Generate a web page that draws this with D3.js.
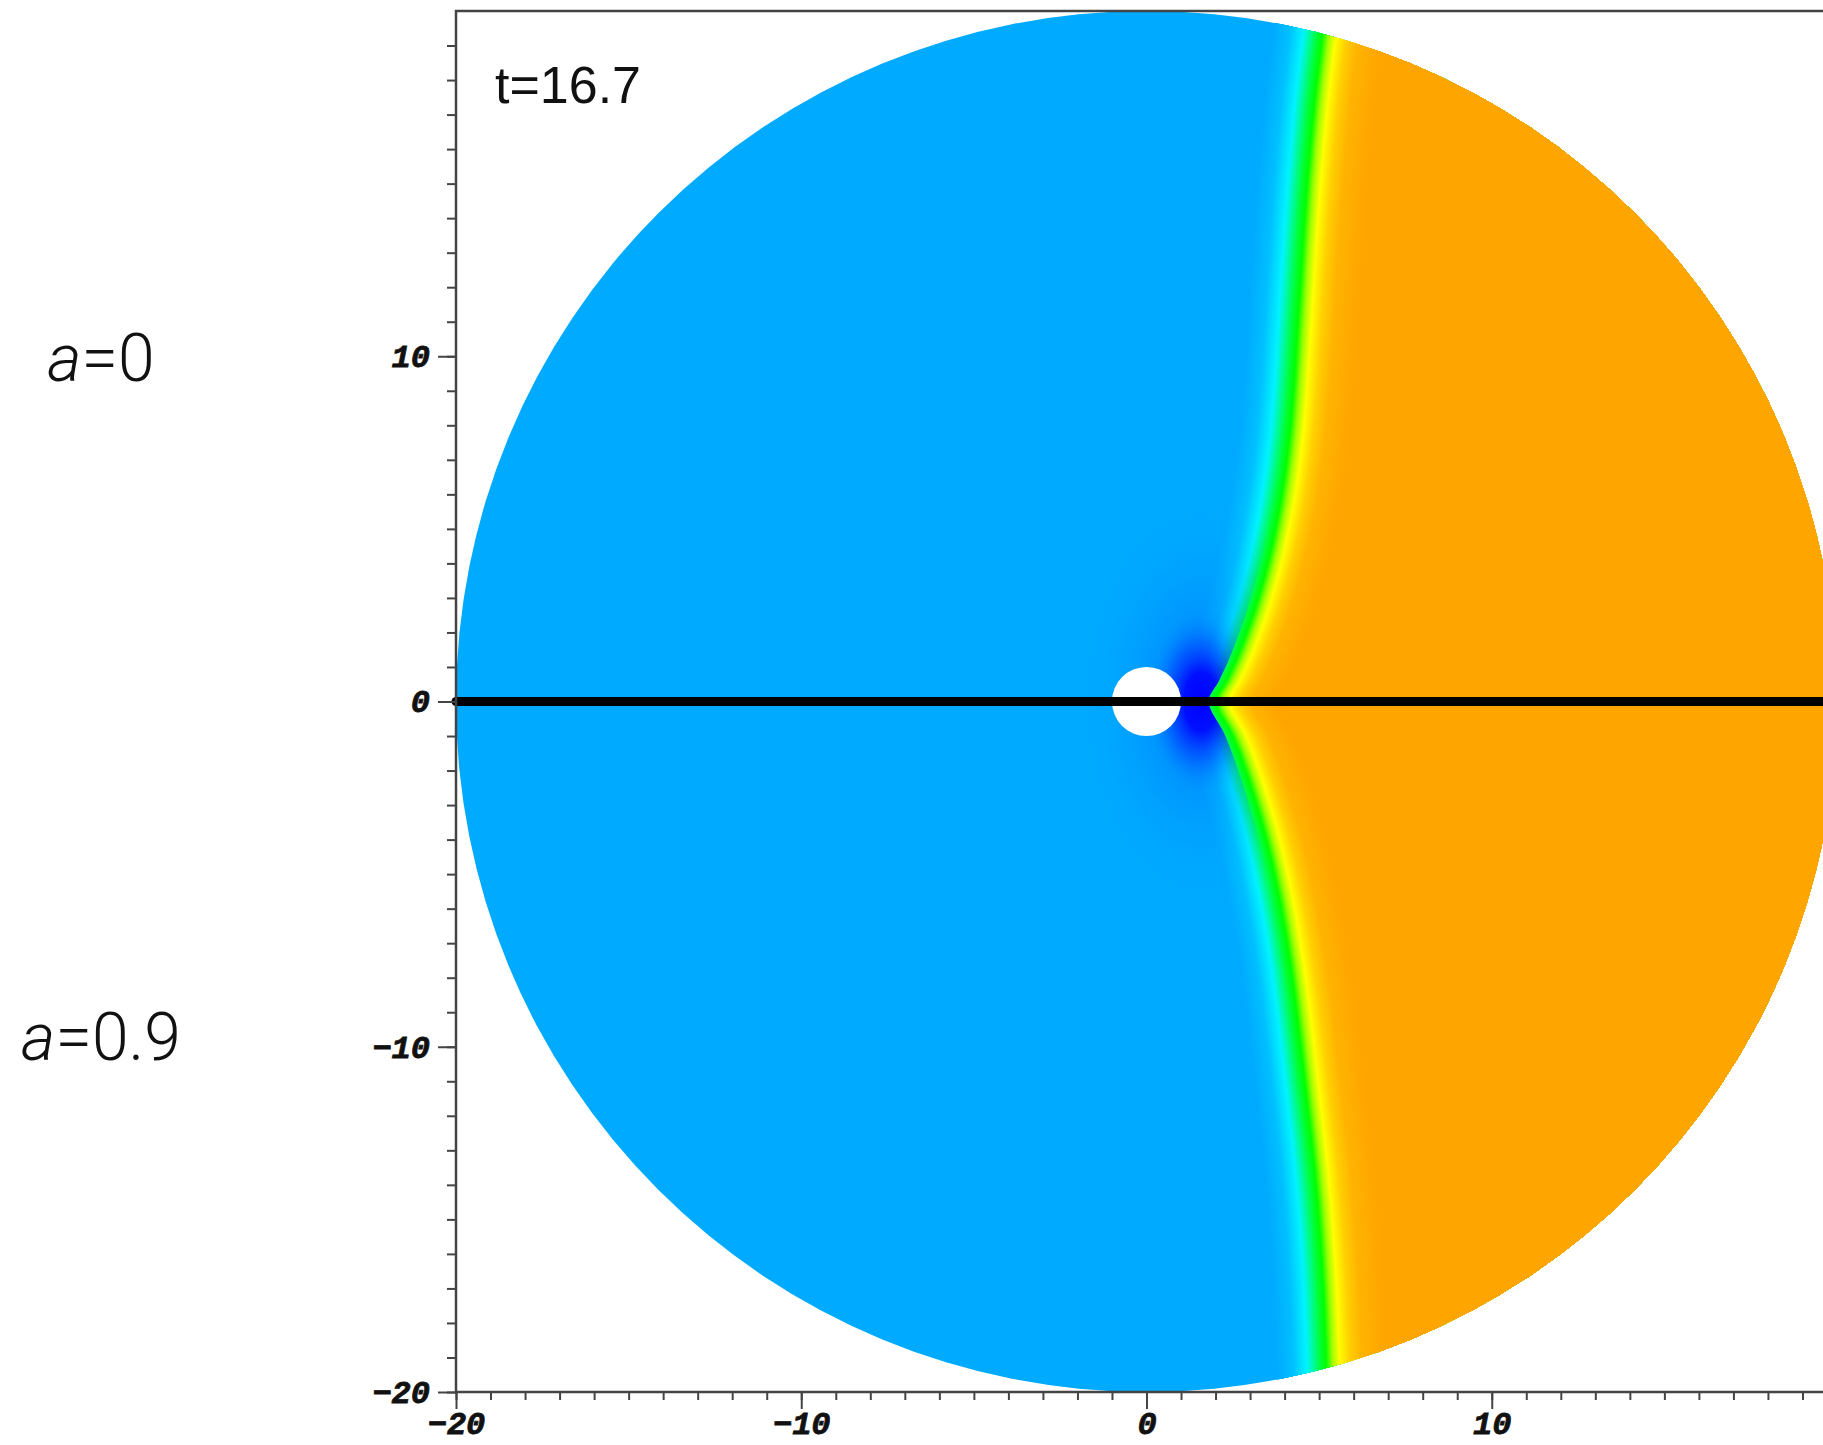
<!DOCTYPE html>
<html>
<head>
<meta charset="utf-8">
<script src="https://cdn.jsdelivr.net/npm/d3@7"></script>
<style>
    body { margin: 0; background: #fff; }
    .axis text { font-family: "Liberation Mono", monospace; font-weight: bold; font-style: italic; fill: #111; stroke: #111; stroke-width: 0.8px; }
    .axis line, .axis path { stroke: #444; }
</style>
</head>
<body>
<div id="chart"></div>
<script>
// front (green contour), [x, y] in plot units
const frontA0 = [
    [1.95, 0], [2.25, 0.6], [2.6, 1.37], [3.05, 2.6], [3.45, 4.0], [3.77, 5.5], [4.0, 7.0],
    [4.17, 8.67], [4.36, 11.56], [4.55, 14.45], [4.8, 17.34], [5.05, 19.45], [5.2, 21]
];
const frontA09 = [
    [1.95, 0], [2.41, -0.95], [2.79, -1.94], [3.37, -3.85], [3.8, -5.78], [4.12, -7.71],
    [4.36, -9.63], [4.58, -11.56], [4.8, -13.5], [4.96, -15.4], [5.07, -17.25], [5.15, -19.4], [5.2, -21]
];
const domainRadius = 20;
const holeRadius = 1;
const timeLabel = 't=16.7';
const spinValues = ['0', '0.9'];
const xMajorTicks = [-20, -10, 0, 10];
const yMajorTicks = [-20, -10, 0, 10];
const minorTicks = [-20, -19, -18, -17, -16, -15, -14, -13, -12, -11, -10, -9, -8, -7, -6, -5, -4, -3, -2, -1,
    0, 1, 2, 3, 4, 5, 6, 7, 8, 9, 10, 11, 12, 13, 14, 15, 16, 17, 18, 19, 20];

// colour table across the front (offset from the green line, plot units)
const levelOffsets = [-1.4, -0.9, -0.5, -0.12, 0.06, 0.25, 0.45, 0.75, 1.1, 1.8];
const levelColors = ['#00aaff', '#00c0ff', '#00f4ff', '#00ff40', '#00ff00', '#a0ff00', '#ffff00', '#ffd000', '#ffb400', '#ffa500'];

class FrontPlot {
    constructor(container) {
        this.container = container;
        this.width = 1823;
        this.height = 1445;
        this.x = d3.scaleLinear().domain([-20, 20]).range([456, 1837]);
        this.y = d3.scaleLinear().domain([-20, 20]).range([1392, 11]);

        this.initSVG();
        this.drawField();
        this.drawAxes();
        this.drawLabels();
    }

    initSVG() {
        this.svg = d3.select(this.container)
            .append('svg')
            .attr('width', this.width)
            .attr('height', this.height);
        this.defs = this.svg.append('defs');

        this.defs.append('clipPath').attr('id', 'plot-clip')
            .append('rect')
            .attr('x', this.x(-20)).attr('y', this.y(20))
            .attr('width', this.x(20) - this.x(-20))
            .attr('height', this.y(-20) - this.y(20));

        this.defs.append('clipPath').attr('id', 'disk-clip')
            .append('circle')
            .attr('cx', this.x(0)).attr('cy', this.y(0))
            .attr('r', this.x(domainRadius) - this.x(0));
    }

    frontPath(offset, side) {
        const line = d3.line()
            .x(d => this.x(d[0] + offset))
            .y(d => this.y(d[1]))
            .curve(d3.curveCatmullRom);
        const pts = frontA09.slice().reverse().concat(frontA0.slice(1));
        const edge = side === 'right' ? 25 : -25;
        return line(pts) + `L${this.x(edge)},${this.y(21)}L${this.x(edge)},${this.y(-21)}Z`;
    }

    addGradient(id, stops) {
        const grad = this.defs.append('radialGradient').attr('id', id);
        stops.forEach(s => grad.append('stop')
            .attr('offset', s[0]).attr('stop-color', s[1]).attr('stop-opacity', s[2]));
    }

    drawField() {
        const color = d3.scaleLinear().domain(levelOffsets).range(levelColors).clamp(true);
        const plot = this.svg.append('g').attr('clip-path', 'url(#plot-clip)');
        const disk = plot.append('g').attr('clip-path', 'url(#disk-clip)');

        disk.append('rect')
            .attr('x', this.x(-21)).attr('y', this.y(21))
            .attr('width', this.x(21) - this.x(-21))
            .attr('height', this.y(-21) - this.y(21))
            .attr('fill', levelColors[0]);

        // bands of the front, drawn left to right
        const step = 0.03;
        const offsets = d3.range(levelOffsets[0], 1.9, step);
        disk.selectAll('.band')
            .data(offsets)
            .enter()
            .append('path')
            .attr('class', 'band')
            .attr('d', d => this.frontPath(d, 'right'))
            .attr('fill', d => color(d + step / 2));

        // dark blue wedge by the hole, kept left of the front
        this.addGradient('halo', [[0, '#0050ff', 0.55], [0.5, '#0070ff', 0.25], [1, '#00aaff', 0]]);
        this.addGradient('wedge', [[0, '#0000ff', 1], [0.3, '#0000ff', 0.9], [0.6, '#0030ff', 0.45], [1, '#00aaff', 0]]);

        this.defs.append('clipPath').attr('id', 'left-of-front')
            .append('path').attr('d', this.frontPath(-0.15, 'left'));

        const wedge = disk.append('g').attr('clip-path', 'url(#left-of-front)');
        wedge.append('ellipse')
            .attr('cx', this.x(1.6)).attr('cy', this.y(0))
            .attr('rx', this.x(3.6) - this.x(0))
            .attr('ry', this.y(0) - this.y(6))
            .attr('fill', 'url(#halo)');
        wedge.append('ellipse')
            .attr('cx', this.x(1.6)).attr('cy', this.y(0))
            .attr('rx', this.x(1.7) - this.x(0))
            .attr('ry', this.y(0) - this.y(2.8))
            .attr('fill', 'url(#wedge)');

        // hole
        plot.append('circle')
            .attr('cx', this.x(0)).attr('cy', this.y(0))
            .attr('r', this.x(holeRadius) - this.x(0))
            .attr('fill', '#fff');

        // equator line
        this.svg.append('line')
            .attr('x1', this.x(-20)).attr('x2', this.x(20))
            .attr('y1', this.y(0)).attr('y2', this.y(0))
            .attr('stroke', '#000')
            .attr('stroke-width', 9)
            .attr('stroke-linecap', 'round');
    }

    drawAxes() {
        const x0 = this.x(-20), y0 = this.y(-20), yTop = this.y(20);

        // minor ticks
        this.svg.append('g').attr('class', 'axis')
            .attr('transform', `translate(0,${y0})`)
            .call(d3.axisBottom(this.x).tickValues(minorTicks).tickSize(8).tickFormat(''))
            .call(g => g.select('.domain').remove())
            .selectAll('line').attr('stroke-width', 2);
        this.svg.append('g').attr('class', 'axis')
            .attr('transform', `translate(${x0},0)`)
            .call(d3.axisLeft(this.y).tickValues(minorTicks.slice(0, -1)).tickSize(9).tickFormat(''))
            .call(g => g.select('.domain').remove())
            .selectAll('line').attr('stroke-width', 2);

        // major ticks with labels
        const fmt = d => (d < 0 ? '\u2212' : '') + Math.abs(d);
        const xAxisG = this.svg.append('g').attr('class', 'axis')
            .attr('transform', `translate(0,${y0})`)
            .call(d3.axisBottom(this.x).tickValues(xMajorTicks).tickSize(17).tickSizeOuter(0)
                .tickPadding(2).tickFormat(fmt));
        xAxisG.select('.domain').remove();
        xAxisG.selectAll('line').attr('stroke-width', 2);
        xAxisG.selectAll('text').attr('font-size', 32);

        const yAxisG = this.svg.append('g').attr('class', 'axis')
            .attr('transform', `translate(${x0},0)`)
            .call(d3.axisLeft(this.y).tickValues(yMajorTicks).tickSize(18).tickSizeOuter(0)
                .tickPadding(8).tickFormat(fmt));
        yAxisG.select('.domain').remove();
        yAxisG.selectAll('line').attr('stroke-width', 2);
        yAxisG.selectAll('text').attr('font-size', 32);

        // frame
        const frame = this.svg.append('g')
            .attr('fill', 'none')
            .attr('stroke', '#444')
            .attr('stroke-width', 2.5);
        frame.append('path').attr('d', `M${this.width},${yTop}H${x0}V${y0}H${this.width}`);
    }

    drawLabels() {
        this.svg.append('text')
            .attr('x', 495).attr('y', 103)
            .attr('font-family', '"Liberation Sans", Arial, sans-serif')
            .attr('font-size', 52)
            .attr('fill', '#111')
            .text(timeLabel);

        const spin = this.svg.selectAll('.spin')
            .data(spinValues)
            .enter()
            .append('text')
            .attr('class', 'spin')
            .attr('x', 101)
            .attr('y', (d, i) => [381, 1060][i])
            .attr('text-anchor', 'middle')
            .attr('font-family', 'Roboto, "Liberation Sans", sans-serif')
            .attr('font-weight', 300)
            .attr('font-size', 66)
            .attr('fill', '#111');
        spin.append('tspan').attr('font-style', 'italic').text('a');
        spin.append('tspan').text(d => '=' + d);
    }
}

new FrontPlot('#chart');
</script>
</body>
</html>
